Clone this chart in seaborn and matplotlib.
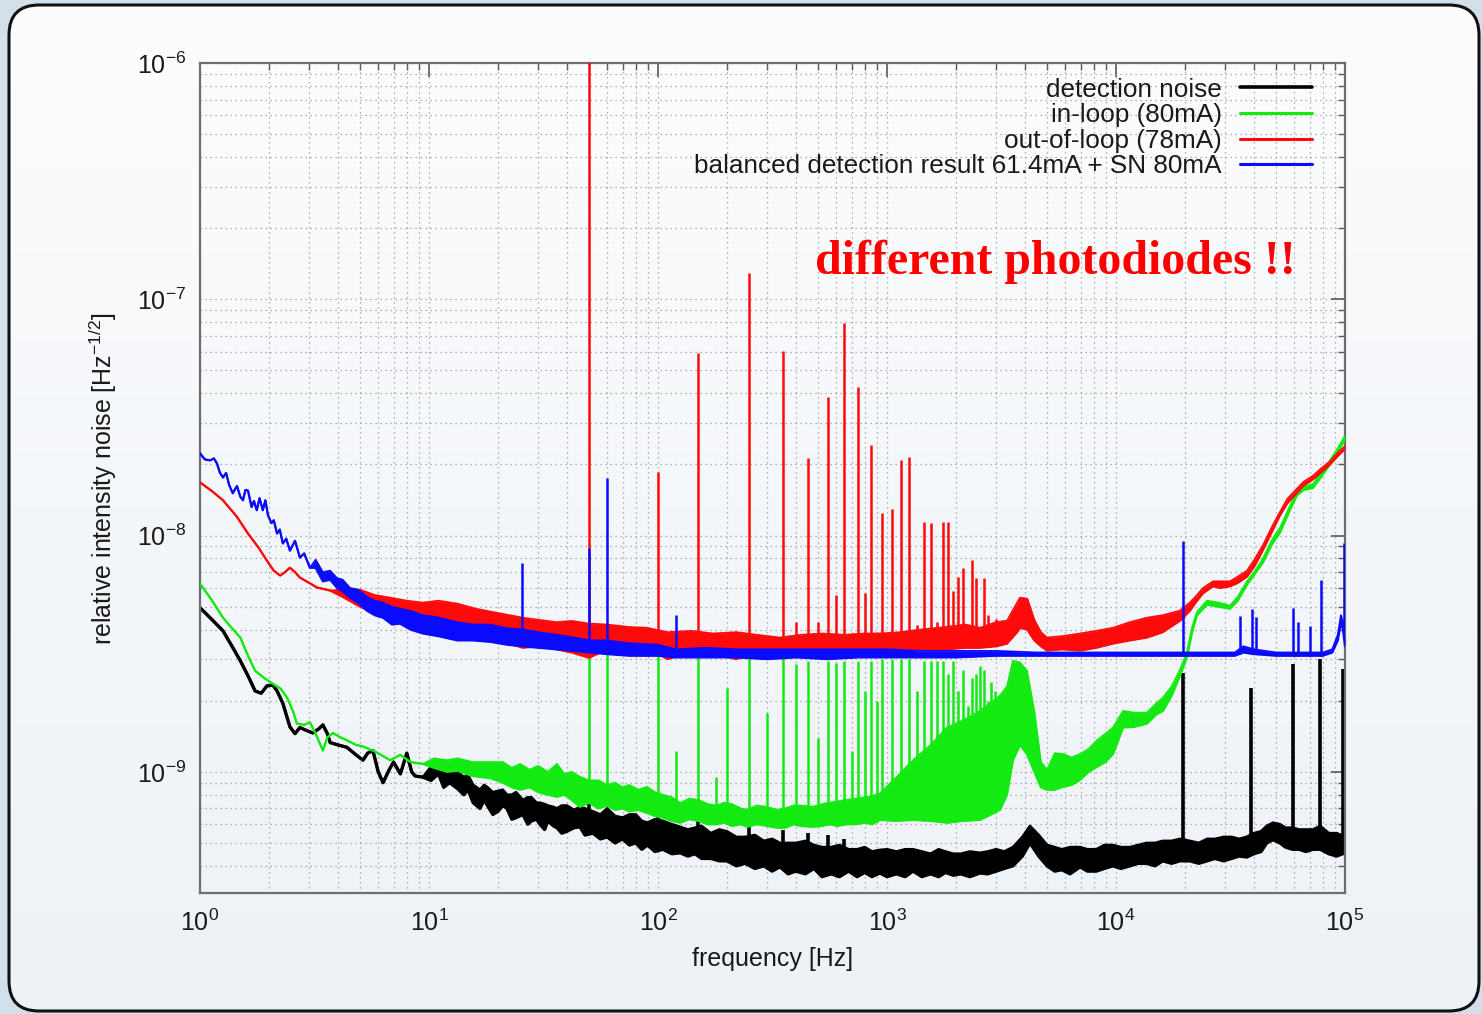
import numpy as np
import matplotlib
matplotlib.use("Agg")
import matplotlib.pyplot as plt
import seaborn as sns
from matplotlib.patches import FancyBboxPatch
from matplotlib.colors import LinearSegmentedColormap
from matplotlib.ticker import LogLocator, NullFormatter, FixedLocator

# ---------------- data (values in units of 1e-9 / sqrt(Hz)) ----------------
UNIT = 1e-9

# detection noise (black)
bk_thin_f = [1.0, 1.13, 1.26, 1.38, 1.5, 1.62, 1.74, 1.85, 1.96, 2.08, 2.17, 2.3, 2.47, 2.6, 2.73, 2.9,
             3.11, 3.3, 3.44, 3.6, 3.7, 4.0, 4.38, 4.8, 5.15, 5.4, 5.69, 6.0, 6.3, 6.7, 7.0, 7.5, 8.0,
             8.4, 8.7, 9.4]
bk_thin_v = [4.95, 4.4, 3.95, 3.4, 2.95, 2.55, 2.2, 2.15, 2.31, 2.33, 2.2, 1.95, 1.55, 1.45, 1.54, 1.50,
             1.46, 1.52, 1.58, 1.45, 1.33, 1.30, 1.27, 1.18, 1.12, 1.20, 1.23, 1.0, 0.90, 1.02, 1.10, 0.98,
             1.20, 1.0, 0.96, 0.95]
bk_band_f = [10.2, 11.0, 11.6, 12.3, 13.3, 14.2, 14.8, 15.6, 16.7, 17.4, 18.0, 19.0, 20.0, 21.0, 21.9,
             23.0, 24, 25.7, 27, 28, 29.5, 30.5, 32, 33, 35, 36.2, 38, 40, 43, 45.6, 48, 52, 56, 60, 65,
             70, 75, 80, 85, 90, 97, 105, 115, 125, 135, 145, 155, 170, 185, 200, 220, 240, 265, 290,
             315, 341, 370, 400, 440, 480, 520, 570, 620, 680, 740, 800, 860, 931, 1000, 1100, 1200,
             1300, 1420, 1550, 1680, 1800, 1950, 2100, 2300, 2547, 2750, 3000, 3250, 3548, 3900, 4210,
             4600, 5000, 5400, 5800, 6300, 6970, 7500, 8200, 8900, 9700, 10500, 11500, 12500, 13600,
             14800, 16000, 17500, 19000, 21000, 23000, 25000, 27000, 29500, 32000, 34500, 37300, 40000,
             43000, 45500, 48500, 52000, 55000, 59000, 63000, 67500, 72400, 78000, 85000, 92000, 100000]
bk_band_lo = [0.92, 0.98, 0.86, 0.90, 0.85, 0.80, 0.84, 0.74, 0.70, 0.76, 0.72, 0.66, 0.68, 0.72, 0.70,
              0.63, 0.64, 0.66, 0.60, 0.62, 0.63, 0.60, 0.57, 0.62, 0.59, 0.58, 0.55, 0.56, 0.58, 0.585,
              0.54, 0.55, 0.52, 0.53, 0.50, 0.52, 0.49, 0.50, 0.47, 0.49, 0.46, 0.47, 0.45, 0.454, 0.44,
              0.45, 0.43, 0.43, 0.42, 0.42, 0.40, 0.41, 0.39, 0.40, 0.38, 0.396, 0.37, 0.38, 0.37, 0.39,
              0.36, 0.37, 0.36, 0.38, 0.36, 0.375, 0.36, 0.373, 0.36, 0.37, 0.36, 0.38, 0.36, 0.37, 0.36,
              0.375, 0.365, 0.37, 0.36, 0.373, 0.37, 0.38, 0.39, 0.40, 0.44, 0.50, 0.44, 0.40, 0.38,
              0.385, 0.37, 0.396, 0.38, 0.38, 0.39, 0.40, 0.39, 0.40, 0.41, 0.41, 0.40, 0.42, 0.41, 0.42,
              0.42, 0.41, 0.42, 0.43, 0.42, 0.43, 0.44, 0.436, 0.45, 0.46, 0.50, 0.516, 0.50, 0.48, 0.47,
              0.47, 0.46, 0.47, 0.47, 0.45, 0.44, 0.454]
bk_band_hi = [1.05, 1.10, 1.02, 1.04, 1.00, 0.95, 0.97, 0.88, 0.84, 0.88, 0.86, 0.82, 0.83, 0.84, 0.80,
              0.80, 0.82, 0.76, 0.78, 0.78, 0.74, 0.74, 0.73, 0.72, 0.71, 0.70, 0.72, 0.72, 0.69, 0.71,
              0.70, 0.68, 0.66, 0.70, 0.65, 0.64, 0.66, 0.66, 0.62, 0.61, 0.63, 0.62, 0.60, 0.585, 0.57,
              0.58, 0.59, 0.55, 0.57, 0.56, 0.53, 0.53, 0.54, 0.51, 0.52, 0.50, 0.50, 0.50, 0.51, 0.49,
              0.48, 0.48, 0.49, 0.47, 0.47, 0.48, 0.46, 0.467, 0.47, 0.46, 0.47, 0.47, 0.46, 0.45, 0.47,
              0.46, 0.45, 0.45, 0.46, 0.454, 0.46, 0.47, 0.46, 0.48, 0.53, 0.59, 0.54, 0.49, 0.48, 0.47,
              0.48, 0.48, 0.47, 0.47, 0.49, 0.49, 0.48, 0.48, 0.49, 0.50, 0.50, 0.51, 0.51, 0.52, 0.51,
              0.50, 0.52, 0.52, 0.53, 0.53, 0.52, 0.531, 0.55, 0.56, 0.59, 0.609, 0.60, 0.58, 0.58, 0.57,
              0.57, 0.57, 0.59, 0.55, 0.55, 0.531]
bk_spike_f = [50, 100, 150, 250, 350, 450, 550, 650, 19600, 39000, 59000, 78000, 98000]
bk_spike_peak = [0.82, 0.70, 0.68, 0.60, 0.57, 0.55, 0.54, 0.52, 2.63, 2.27, 2.87, 3.0, 2.73]

# in-loop (green)
gr_thin_f = [1.0, 1.13, 1.26, 1.38, 1.5, 1.62, 1.74, 1.9, 2.08, 2.25, 2.4, 2.55, 2.65, 2.85, 3.02, 3.2,
             3.44, 3.6, 3.81, 4.1, 4.38, 4.8, 5.15, 5.8, 6.76, 7.5, 8.3, 9.41]
gr_thin_v = [6.26, 5.3, 4.49, 4.05, 3.70, 3.1, 2.68, 2.5, 2.36, 2.25, 2.06, 1.80, 1.60, 1.58, 1.62, 1.45,
             1.23, 1.40, 1.46, 1.40, 1.36, 1.30, 1.28, 1.22, 1.12, 1.18, 1.10, 1.08]
gr_band_f = [10.5, 12, 13.3, 15.5, 18.5, 21, 23, 25, 27.5, 30, 33, 36.2, 39, 42, 45.6, 50, 55, 60, 65, 70,
             75, 82, 89.5, 97, 105, 115, 125, 137, 150, 165, 180, 195, 210, 230, 245, 270, 300, 330, 360,
             390, 420, 475, 520, 560, 610, 660, 730, 800, 860, 931, 1100, 1300, 1550, 1828, 2150, 2547,
             3113, 3342, 3548, 3808, 4085, 4400, 4700, 5000, 5400, 5870, 6400, 6970, 7600, 8260, 9000,
             9710, 10740, 12000, 13650, 15000, 16030, 17500, 19020, 20400, 21500, 22570, 24960, 28000,
             31460, 34000, 37330, 40500, 43850, 48000, 52050, 57000, 61730, 66000, 72440, 79000, 85950,
             93000, 100000]
gr_band_lo = [1.04, 1.0, 1.01, 0.96, 0.94, 0.90, 0.86, 0.84, 0.86, 0.82, 0.80, 0.784, 0.80, 0.76, 0.711,
              0.74, 0.70, 0.72, 0.69, 0.70, 0.68, 0.69, 0.67, 0.65, 0.64, 0.62, 0.609, 0.63, 0.62, 0.60,
              0.60, 0.61, 0.59, 0.60, 0.585, 0.60, 0.59, 0.58, 0.58, 0.60, 0.59, 0.585, 0.59, 0.60, 0.59,
              0.60, 0.60, 0.61, 0.60, 0.626, 0.62, 0.626, 0.62, 0.609, 0.62, 0.626, 0.69, 0.80, 1.12,
              1.3, 1.19, 1.0, 0.86, 0.839, 0.84, 0.864, 0.88, 0.925, 1.0, 1.05, 1.1, 1.19, 1.54, 1.55,
              1.60, 1.75, 1.81, 2.1, 2.55, 3.05, 3.9, 4.6, 5.1, 5.0, 4.9, 5.3, 6.2, 6.9, 7.7, 9.2, 10.3,
              12.6, 14.8, 15.6, 15.9, 17.8, 20.0, 22.6, 25.5]
gr_band_hi = [1.14, 1.12, 1.14, 1.10, 1.10, 1.10, 1.04, 1.08, 1.02, 1.06, 1.0, 1.08, 0.98, 1.0, 0.953,
              0.92, 0.92, 0.88, 0.90, 0.86, 0.88, 0.84, 0.864, 0.82, 0.80, 0.78, 0.738, 0.77, 0.76, 0.73,
              0.72, 0.74, 0.73, 0.70, 0.69, 0.72, 0.71, 0.69, 0.70, 0.72, 0.72, 0.711, 0.73, 0.74, 0.75,
              0.76, 0.77, 0.78, 0.79, 0.81, 0.95, 1.12, 1.30, 1.54, 1.65, 1.81, 2.1, 2.3, 2.95, 2.9,
              2.68, 1.8, 1.1, 1.02, 1.2, 1.19, 1.15, 1.19, 1.25, 1.36, 1.45, 1.54, 1.81, 1.78, 1.78,
              1.95, 2.06, 2.3, 2.7, 3.2, 4.1, 4.75, 5.3, 5.2, 5.05, 5.5, 6.4, 7.1, 8.0, 9.6, 10.8, 13.1,
              15.3, 16.1, 16.5, 18.6, 20.8, 23.4, 26.5]
gr_spike_f = [50, 60, 100, 120, 150, 180, 200, 250, 300, 350, 400, 450, 500, 550, 600, 650, 700, 750, 800,
              850, 900, 950, 1050, 1150, 1250, 1350, 1450, 1550, 1650, 1750, 1850, 1950, 2050, 2150, 2250,
              2350, 2450, 2550, 2650, 2750, 2850, 2950]
gr_spike_peak = [3.2, 3.2, 3.2, 1.23, 3.2, 0.95, 2.27, 3.2, 1.78, 3.16, 2.87, 2.95, 1.39, 2.95, 2.9, 2.95,
                 1.23, 2.95, 2.2, 2.95, 2.0, 3.0, 3.0, 3.0, 3.0, 2.2, 2.95, 2.95, 2.95, 2.95, 2.6, 2.95,
                 2.2, 2.7, 1.9, 2.5, 2.6, 2.8, 2.7, 2.0, 2.4, 2.2]

# out-of-loop (red)
rd_thin_f = [1.0, 1.13, 1.26, 1.45, 1.62, 1.8, 1.96, 2.1, 2.24, 2.35, 2.47, 2.6, 2.73, 3.0, 3.24, 3.7]
rd_thin_v = [16.8, 15.4, 14.1, 12.0, 10.2, 8.9, 7.83, 7.1, 6.77, 7.0, 7.31, 7.0, 6.64, 6.3, 6.03, 5.85]
rd_band_f = [4.2, 5.0, 5.8, 6.76, 8.0, 9.4, 11, 13.3, 16, 20, 25.7, 30, 36, 42, 50, 60, 75, 89.5, 110,
             140, 174, 220, 270, 341, 420, 520, 650, 800, 931, 1150, 1400, 1800, 2200, 2547, 3000, 3342,
             3700, 3808, 4100, 4400, 4700, 5000, 5800, 6970, 8200, 9710, 11500, 13650, 16000, 19020,
             21000, 22570, 24000, 26520, 28500, 31460, 34000, 37330, 40500, 43850, 48000, 52050, 56000,
             61730, 66000, 72440, 79000, 85950, 93000, 100000]
rd_band_lo = [5.5, 5.0, 4.7, 4.49, 4.3, 4.2, 4.0, 3.96, 3.8, 3.6, 3.35, 3.4, 3.3, 3.2, 3.04, 3.3, 3.3,
              3.35, 3.0, 3.2, 3.16, 3.0, 3.2, 3.04, 3.1, 3.1, 3.2, 3.2, 3.16, 3.2, 3.3, 3.3, 3.35, 3.35,
              3.4, 3.49, 3.9, 4.07, 4.0, 3.6, 3.4, 3.26, 3.3, 3.26, 3.35, 3.49, 3.6, 3.70, 3.9, 4.36, 4.8,
              5.3, 5.7, 6.1, 6.0, 6.1, 6.3, 6.7, 7.5, 8.7, 10.4, 12.2, 13.7, 15.2, 16.3, 17.3, 18.6, 20.0,
              21.7, 23.3]
rd_band_hi = [5.9, 5.9, 5.6, 5.46, 5.3, 5.2, 5.3, 5.15, 4.9, 4.7, 4.49, 4.4, 4.3, 4.35, 4.24, 4.2, 4.1,
              4.07, 3.9, 3.95, 3.85, 3.9, 3.8, 3.70, 3.8, 3.85, 3.8, 3.85, 3.85, 3.9, 4.0, 4.1, 4.2, 4.07,
              4.3, 4.36, 5.2, 5.46, 5.4, 4.4, 3.9, 3.70, 3.75, 3.85, 3.95, 4.07, 4.3, 4.49, 4.6, 4.81, 5.2,
              5.6, 6.0, 6.4, 6.4, 6.4, 6.7, 7.1, 8.0, 9.1, 10.9, 12.6, 14.3, 15.8, 16.9, 17.9, 19.3, 20.6,
              22.4, 23.9]
rd_spike_f = [50, 100, 150, 250, 350, 400, 450, 500, 550, 600, 650, 750, 800, 850, 950, 1050, 1150, 1250,
              1350, 1450, 1550, 1650, 1750, 1850, 1950, 2050, 2150, 2250, 2350, 2450, 2650, 2750, 3000]
rd_spike_peak = [1500, 18.5, 59.0, 129, 60.2, 4.3, 21.2, 4.3, 38.4, 5.6, 79, 42.4, 5.7, 24.1, 12.4, 13.0,
                 20.8, 21.4, 4.2, 11.4, 11.3, 4.3, 11.4, 11.4, 5.85, 6.7, 7.3, 4.15, 7.9, 6.6, 6.6, 4.6,
                 4.45]

# balanced detection (blue)
bl_thin_f = [1.0, 1.05, 1.106, 1.15, 1.186, 1.22, 1.26, 1.3, 1.34, 1.39, 1.45, 1.5, 1.54, 1.58, 1.62,
             1.68, 1.72, 1.77, 1.82, 1.88, 1.93, 1.98, 2.05, 2.1, 2.17, 2.23, 2.3, 2.38, 2.47, 2.6, 2.73,
             2.85, 3.02]
bl_thin_v = [22.3, 21.0, 20.8, 21.2, 20.2, 18.5, 17.6, 18.4, 16.4, 15.1, 16.2, 14.6, 14.1, 15.6, 15.5,
             13.2, 14.0, 12.8, 14.4, 12.8, 14.1, 12.2, 11.3, 11.6, 10.2, 10.6, 9.26, 9.7, 8.63, 9.5, 8.07,
             8.4, 7.31]
bl_band_f = [3.2, 3.44, 3.7, 3.97, 4.2, 4.52, 4.9, 5.36, 5.8, 6.3, 6.9, 7.47, 8.3, 9.41, 11, 13.3, 15.5,
             18.5, 22, 25.7, 30, 36.2, 43, 50.5, 60, 75, 100, 120, 160, 220, 300, 400, 550, 750, 1000,
             1400, 2000, 3000, 4500, 7000, 10000, 15000, 20000, 30000, 33000, 36000, 40000, 50000, 65000,
             80000, 88000, 93000, 96000, 98000, 100000]
bl_band_lo = [7.3, 6.4, 6.5, 6.0, 5.8, 5.46, 5.2, 4.81, 4.6, 4.49, 4.2, 4.24, 4.0, 3.85, 3.75, 3.6, 3.6,
              3.55, 3.45, 3.4, 3.35, 3.3, 3.25, 3.2, 3.15, 3.1, 3.1, 3.05, 3.05, 3.05, 3.0, 3.05, 3.0,
              3.05, 3.05, 3.05, 3.05, 3.1, 3.1, 3.1, 3.1, 3.1, 3.1, 3.1, 3.1, 3.2, 3.15, 3.1, 3.1, 3.1,
              3.2, 3.6, 4.3, 4.0, 3.4]
bl_band_hi = [7.9, 7.0, 7.1, 6.6, 6.5, 6.0, 5.9, 5.5, 5.3, 5.2, 5.0, 4.9, 4.8, 4.6, 4.5, 4.3, 4.2, 4.2,
              4.05, 4.0, 3.9, 3.8, 3.7, 3.6, 3.6, 3.5, 3.45, 3.3, 3.35, 3.3, 3.3, 3.3, 3.3, 3.3, 3.3,
              3.25, 3.25, 3.25, 3.2, 3.2, 3.2, 3.2, 3.2, 3.2, 3.2, 3.4, 3.3, 3.2, 3.2, 3.2, 3.3, 3.8, 4.6,
              4.3, 3.6]
bl_spike_f = [25.5, 50, 60, 120, 19600, 34800, 39300, 40900, 59300, 62400, 70300, 78600, 99000]
bl_spike_peak = [7.68, 8.9, 17.5, 4.62, 9.5, 4.58, 4.9, 4.5, 4.95, 4.3, 4.15, 6.5, 9.26]

labels = ["detection noise", "in-loop (80mA)", "out-of-loop (78mA)",
          "balanced detection result 61.4mA + SN 80mA"]
colors = ["#000000", "#12ea12", "#ff0a0a", "#0a0aff"]
y_major = [1e-9, 1e-8, 1e-7, 1e-6]
x_major = [1, 10, 100, 1000, 10000, 100000]

# ---------------- style ----------------
sns.set_theme(style="white")
plt.rcParams['font.family'] = ['Liberation Sans', 'DejaVu Sans']
plt.rcParams['mathtext.fontset'] = 'custom'
plt.rcParams['mathtext.rm'] = 'Liberation Sans'
plt.rcParams['mathtext.it'] = 'Liberation Sans:italic'
plt.rcParams['mathtext.default'] = 'regular'

W, H = 1482, 1014
fig = plt.figure(figsize=(W / 100, H / 100), dpi=100)
fig.patch.set_facecolor('#d3dfe9')

# rounded panel with soft vertical gradient
panel_clip = FancyBboxPatch((9, 3), 1470, 1006, boxstyle="round,pad=0,rounding_size=30",
                            transform=None, facecolor='none', edgecolor='none')
bg = fig.add_axes([0, 0, 1, 1], zorder=-5)
bg.axis('off')
cmap = LinearSegmentedColormap.from_list('bg', ['#fdfdfe', '#f4f7fa', '#edf2f6'])
im = bg.imshow(np.linspace(0, 1, 256).reshape(-1, 1), aspect='auto', cmap=cmap,
               extent=[0, 1, 0, 1], transform=bg.transAxes)
im.set_clip_path(panel_clip)
panel_edge = FancyBboxPatch((9, 3), 1470, 1006, boxstyle="round,pad=0,rounding_size=30",
                            transform=None, facecolor='none', edgecolor='#111111', linewidth=2.2)
fig.add_artist(panel_edge)

ax = fig.add_axes([200 / W, 121 / H, 1145 / W, 830 / H])
ax.set_facecolor('none')
ax.set_xscale('log')
ax.set_yscale('log')


def draw(thin_f, thin_v, band_f, band_lo, band_hi, spk_f, spk_pk, color, lw, slw, z, label):
    f = np.array(thin_f + band_f, dtype=float)
    lo = np.array(thin_v + band_lo, dtype=float) * UNIT
    hi = np.array(thin_v + band_hi, dtype=float) * UNIT
    ax.fill_between(f, lo, hi, color=color, lw=0, zorder=z)
    sns.lineplot(x=f, y=lo, ax=ax, color=color, lw=lw, zorder=z, sort=False,
                 errorbar=None, label=label)
    sns.lineplot(x=f, y=hi, ax=ax, color=color, lw=lw * 0.8, zorder=z, sort=False,
                 errorbar=None)
    sf = np.array(spk_f, dtype=float)
    base = 10 ** np.interp(np.log10(sf), np.log10(f), np.log10(lo))
    ax.vlines(sf, base, np.array(spk_pk) * UNIT, color=color, lw=slw, zorder=z)


draw(bk_thin_f, bk_thin_v, bk_band_f, bk_band_lo, bk_band_hi, bk_spike_f, bk_spike_peak,
     colors[0], 2.4, 2.6, 2, labels[0])
draw(gr_thin_f, gr_thin_v, gr_band_f, gr_band_lo, gr_band_hi, gr_spike_f, gr_spike_peak,
     colors[1], 1.6, 1.8, 3, labels[1])
draw(rd_thin_f, rd_thin_v, rd_band_f, rd_band_lo, rd_band_hi, rd_spike_f, rd_spike_peak,
     colors[2], 1.6, 1.8, 4, labels[2])
draw(bl_thin_f, bl_thin_v, bl_band_f, bl_band_lo, bl_band_hi, bl_spike_f, bl_spike_peak,
     colors[3], 1.6, 1.8, 5, labels[3])

ax.set_xlim(1, 1e5)
ax.set_ylim(3.07e-10, 1e-6)
ax.xaxis.set_major_locator(FixedLocator(x_major))
ax.yaxis.set_major_locator(FixedLocator(y_major))
for axis in (ax.xaxis, ax.yaxis):
    axis.set_minor_locator(LogLocator(base=10, subs=np.arange(2, 10), numticks=100))
    axis.set_minor_formatter(NullFormatter())

ax.grid(which='both', linestyle=(0, (1, 3)), color='#9a9a9a', linewidth=0.9)
ax.set_axisbelow(True)
ax.tick_params(which='both', direction='in', top=True, right=True, color='#5a5a5a')
ax.tick_params(which='major', length=10, width=1.2, labelsize=18, pad=10, labelcolor='#1a1a1a')
ax.tick_params(which='minor', length=5, width=1.0)
ax.tick_params(axis='x', which='major', pad=12)
for sp in ax.spines.values():
    sp.set_color('#6e6e6e')
    sp.set_linewidth(1.6)

ax.set_xlabel("frequency [Hz]", fontsize=18, labelpad=8, color='#1a1a1a')
ax.set_ylabel("relative intensity noise [Hz$^{-1/2}$]", fontsize=18, labelpad=13, color='#1a1a1a')

handles, labs = ax.get_legend_handles_labels()
leg = ax.legend(handles, labs, loc='upper right', bbox_to_anchor=(0.9712, 0.9825), frameon=False,
                markerfirst=False, fontsize=18.8, handlelength=2.75, handletextpad=0.7,
                labelspacing=0.06, borderpad=0, borderaxespad=0)
for t in leg.get_texts():
    t.set_color('#1a1a1a')
for h in leg.legend_handles:
    h.set_linewidth(2.6 if h.get_color() == '#000000' else 2.2)

ax.text(0.537, 0.746, "different photodiodes !!", transform=ax.transAxes, color='#ff0000',
        fontsize=34.5, fontweight='bold', family=['Liberation Serif', 'DejaVu Serif'],
        ha='left', va='baseline', zorder=10)

fig.savefig("out.png", dpi=100, facecolor=fig.get_facecolor())
